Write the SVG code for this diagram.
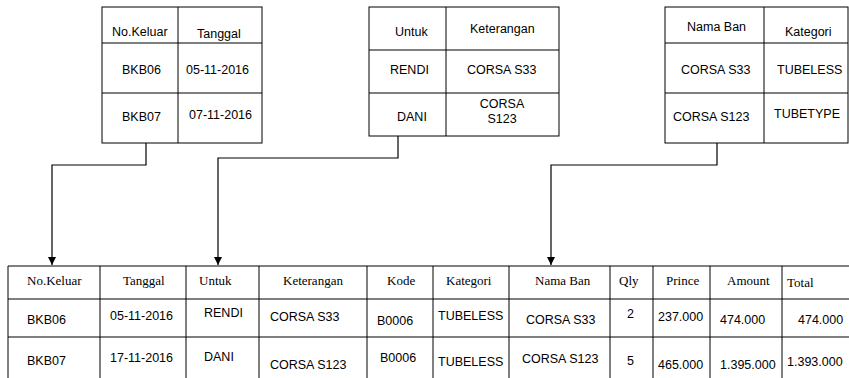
<svg xmlns="http://www.w3.org/2000/svg" width="849" height="378" viewBox="0 0 849 378">
<style>
.b{fill:none;stroke:#000;stroke-width:1}
.s{font-family:"Liberation Sans",Arial,sans-serif;font-size:12.5px;fill:#000}
.t{font-family:"Liberation Serif","Times New Roman",serif;font-size:13px;fill:#000}
.c{fill:none;stroke:#000;stroke-width:1.2}
</style>
<defs>
<marker id="ar" markerWidth="8" markerHeight="8" refX="8" refY="4" orient="auto" markerUnits="userSpaceOnUse" viewBox="0 0 8 8">
<path d="M0,0 L8,4 L0,8 Z" fill="#000"/>
</marker>
</defs>
<rect width="849" height="378" fill="#fff"/>
<g id="tabel-keluar">
<rect class="b" x="102" y="7" width="160" height="136"/>
<line class="b" x1="178" y1="7" x2="178" y2="143"/>
<line class="b" x1="102" y1="43" x2="262" y2="43"/>
<line class="b" x1="102" y1="93" x2="262" y2="93"/>
<text class="s" x="112" y="36">No.Keluar</text>
<text class="s" x="197" y="38">Tanggal</text>
<text class="s" x="122" y="74">BKB06</text>
<text class="s" x="186" y="74">05-11-2016</text>
<text class="s" x="122" y="121">BKB07</text>
<text class="s" x="189" y="119">07-11-2016</text>
</g>
<g id="tabel-untuk">
<rect class="b" x="369" y="7" width="190" height="129"/>
<line class="b" x1="446" y1="7" x2="446" y2="136"/>
<line class="b" x1="369" y1="50" x2="559" y2="50"/>
<line class="b" x1="369" y1="93" x2="559" y2="93"/>
<text class="s" x="395" y="36">Untuk</text>
<text class="s" x="470" y="33">Keterangan</text>
<text class="s" x="390" y="74">RENDI</text>
<text class="s" x="467" y="74">CORSA S33</text>
<text class="s" x="397" y="121">DANI</text>
<text class="s" x="502" y="108" text-anchor="middle">CORSA</text>
<text class="s" x="502" y="123" text-anchor="middle">S123</text>
</g>
<g id="tabel-ban">
<rect class="b" x="665" y="7" width="183" height="136"/>
<line class="b" x1="764" y1="7" x2="764" y2="143"/>
<line class="b" x1="665" y1="43" x2="848" y2="43"/>
<line class="b" x1="665" y1="93" x2="848" y2="93"/>
<text class="s" x="687" y="31">Nama Ban</text>
<text class="s" x="785" y="36">Kategori</text>
<text class="s" x="681" y="74">CORSA S33</text>
<text class="s" x="777" y="74">TUBELESS</text>
<text class="s" x="673" y="121">CORSA S123</text>
<text class="s" x="774" y="118">TUBETYPE</text>
</g>
<g id="tabel-transaksi">
<path class="b" d="M8,378 V266 H849 M8,299 H849 M8,337 H849"/>
<path class="b" d="M100,266 V378 M186,266 V378 M259,266 V378 M367,266 V378 M433,266 V378 M509,266 V378 M610,266 V378 M653,266 V378 M710,266 V378 M782,266 V378"/>
<text class="t" x="27" y="285">No.Keluar</text>
<text class="t" x="123" y="285">Tanggal</text>
<text class="t" x="199" y="285">Untuk</text>
<text class="t" x="283" y="285">Keterangan</text>
<text class="t" x="387" y="285">Kode</text>
<text class="t" x="446" y="285">Kategori</text>
<text class="t" x="535" y="285">Nama Ban</text>
<text class="t" x="619" y="285">Qly</text>
<text class="t" x="666" y="285">Prince</text>
<text class="t" x="727" y="285">Amount</text>
<text class="t" x="787" y="287">Total</text>
<text class="s" x="27" y="324">BKB06</text>
<text class="s" x="110" y="320">05-11-2016</text>
<text class="s" x="204" y="317">RENDI</text>
<text class="s" x="270" y="321">CORSA S33</text>
<text class="s" x="377" y="325">B0006</text>
<text class="s" x="438" y="320">TUBELESS</text>
<text class="s" x="526" y="324">CORSA S33</text>
<text class="s" x="627" y="318">2</text>
<text class="s" x="658" y="321">237.000</text>
<text class="s" x="720" y="324">474.000</text>
<text class="s" x="798" y="324">474.000</text>
<text class="s" x="27" y="365">BKB07</text>
<text class="s" x="110" y="362">17-11-2016</text>
<text class="s" x="204" y="361">DANI</text>
<text class="s" x="270" y="369">CORSA S123</text>
<text class="s" x="380" y="362">B0006</text>
<text class="s" x="438" y="366">TUBELESS</text>
<text class="s" x="522" y="363">CORSA S123</text>
<text class="s" x="627" y="365">5</text>
<text class="s" x="658" y="369">465.000</text>
<text class="s" x="720" y="369">1.395.000</text>
<text class="s" x="787" y="366">1.393.000</text>
</g>
<g id="connectors">
<path class="c" d="M146,143 V165 H52 V265" marker-end="url(#ar)"/>
<path class="c" d="M398,136 V158 H218 V265" marker-end="url(#ar)"/>
<path class="c" d="M717,143 V165 H551 V265" marker-end="url(#ar)"/>
</g>
</svg>
